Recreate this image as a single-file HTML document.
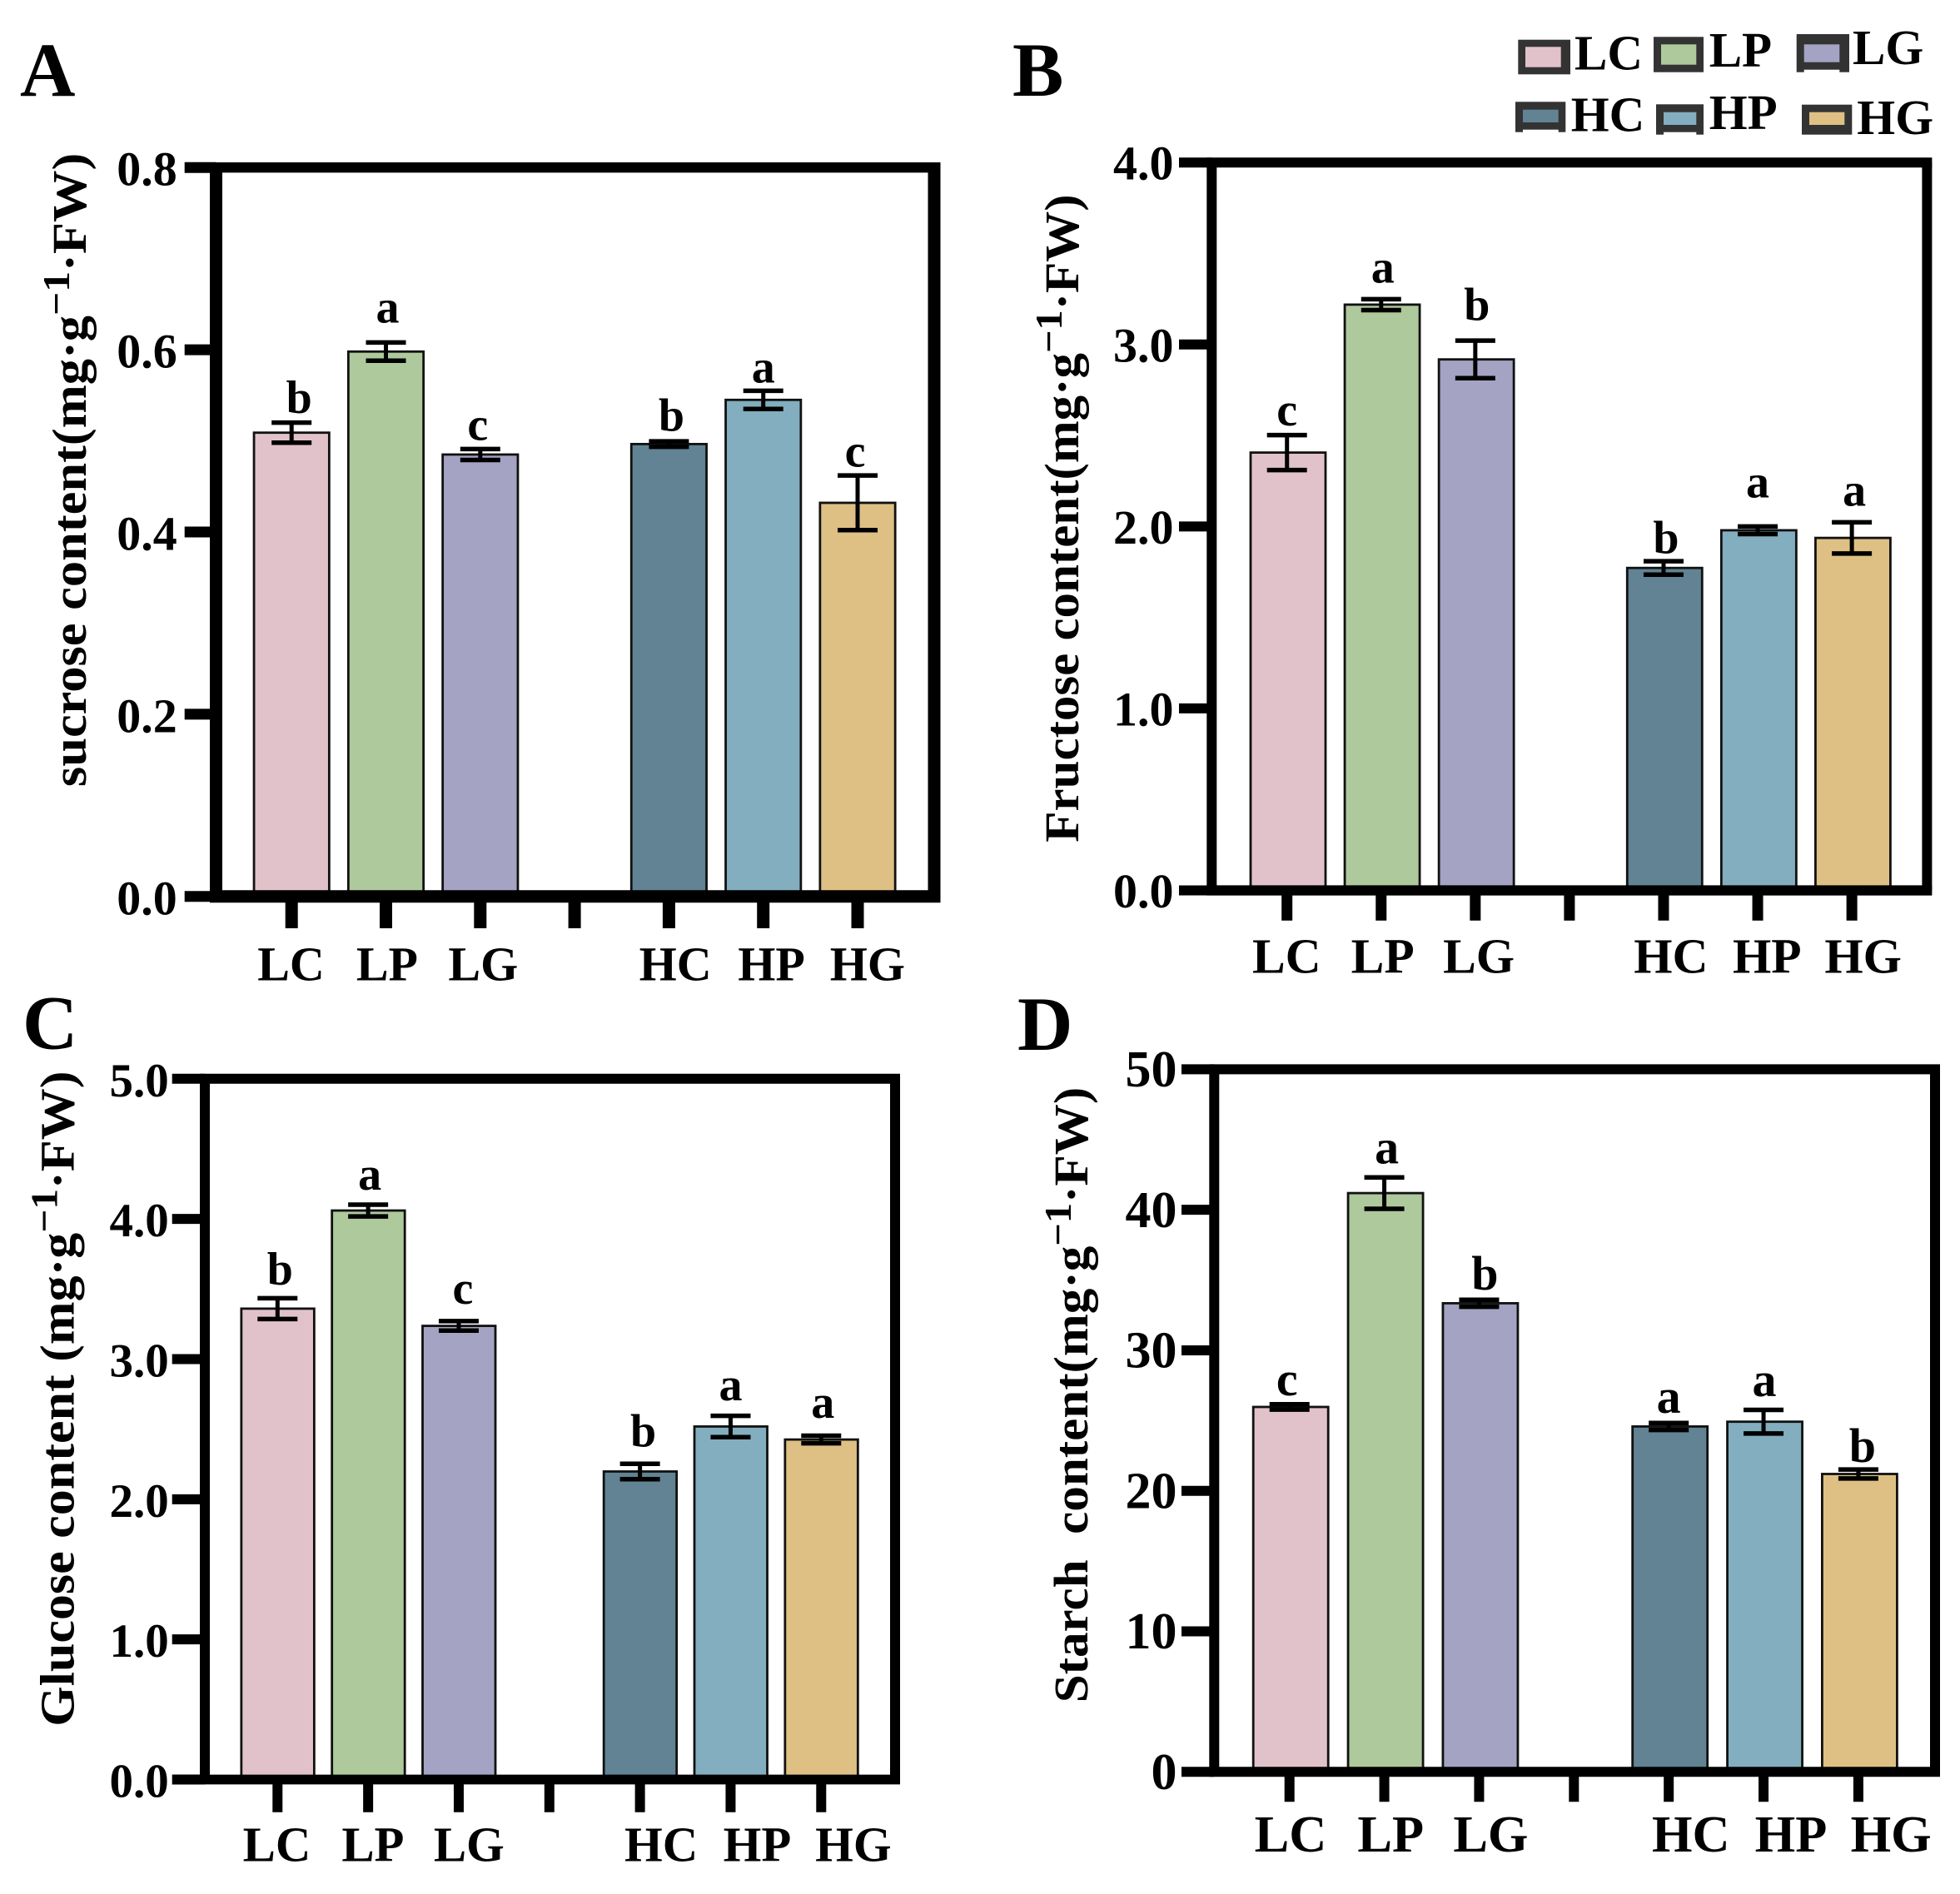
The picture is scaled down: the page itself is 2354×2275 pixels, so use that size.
<!DOCTYPE html>
<html lang="en">
<head>
<meta charset="utf-8">
<title>Sugar and starch content by treatment</title>
<style>
html,body{margin:0;padding:0;background:#fff;}
svg{display:block;}
text{font-family:"Liberation Serif",serif;font-weight:bold;fill:#000;}
</style>
</head>
<body>
<svg id="figure" xmlns="http://www.w3.org/2000/svg" width="2354" height="2275" viewBox="0 0 2354 2275"></svg>
<script>
// ---- Data ----
const categories = ['LC', 'LP', 'LG', 'HC', 'HP', 'HG'];
const categorySlots = [0, 1, 2, 4, 5, 6];

const valuesA = [0.509, 0.598, 0.485, 0.4965, 0.545, 0.432];
const errorsA = [0.011, 0.010, 0.006, 0.003, 0.010, 0.030];
const lettersA = ['b', 'a', 'c', 'b', 'a', 'c'];
const tickLabelsA = ['0.0', '0.2', '0.4', '0.6', '0.8'];

const valuesB = [2.406, 3.219, 2.918, 1.772, 1.979, 1.937];
const errorsB = [0.096, 0.030, 0.103, 0.037, 0.021, 0.086];
const lettersB = ['c', 'a', 'b', 'b', 'a', 'a'];
const tickLabelsB = ['0.0', '1.0', '2.0', '3.0', '4.0'];

const valuesC = [3.36, 4.06, 3.237, 2.198, 2.519, 2.426];
const errorsC = [0.074, 0.042, 0.034, 0.055, 0.076, 0.027];
const lettersC = ['b', 'a', 'c', 'b', 'a', 'a'];
const tickLabelsC = ['0.0', '1.0', '2.0', '3.0', '4.0', '5.0'];

const valuesD = [25.97, 41.19, 33.35, 24.58, 24.92, 21.2];
const errorsD = [0.19, 1.12, 0.25, 0.25, 0.84, 0.32];
const lettersD = ['c', 'a', 'b', 'a', 'a', 'b'];
const tickLabelsD = ['0', '10', '20', '30', '40', '50'];

const barColors = ['#e2c2ca', '#aec99c', '#a4a3c3', '#618393', '#82aebf', '#dec084'];

// ---- Layout (pixels; independent of the data) ----
const panels = [
  { id: 'a', letter: 'A', letterX: 24, letterY: 114.8,
    values: valuesA, errors: errorsA, letters: lettersA, ticks: tickLabelsA,
    left: 259.5, right: 1122, top: 201.2, bottom: 1076.8,
    frameV: 15, frameTop: 12.3, frameBottom: 15,
    tickLeft: 221.7, tickBottom: 1115, xTickWidth: 15, yTickWidth: 13,
    slot0: 350.2, slotStep: 113.3, barWidth: 90.3, barDx: 0,
    tickLabelEnd: 212.7, tickLabelDy: 21.5, tickFont: 58,
    labelStart: 349.5, labelStep: 115.4, labelBase: 1177.7, labelFont: 58,
    sigFont: 56,
    letterGap: [9.2, 21.4, 8.2, 10.2, 7.6, 8.2], letterDx: [9, 2, -3, 3, 0, -3],
    titleA: 'sucrose content(mg·g', titleB: '·FW)', titleX: 103, titleBottom: 945.1, titleLen: 761.4 },
  { id: 'b', letter: 'B', letterX: 1216, letterY: 114.8,
    values: valuesB, errors: errorsB, letters: lettersB, ticks: tickLabelsB,
    left: 1455.3, right: 2314.4, top: 195.2, bottom: 1069.5,
    frameV: 12, frameTop: 12, frameBottom: 12.3,
    tickLeft: 1416, tickBottom: 1105.7, xTickWidth: 13, yTickWidth: 12,
    slot0: 1545.7, slotStep: 113.07, barWidth: 90, barDx: 1.3,
    tickLabelEnd: 1409.5, tickLabelDy: 20.5, tickFont: 58,
    labelStart: 1545.3, labelStep: 115.4, labelBase: 1168.3, labelFont: 59.5,
    sigFont: 56,
    letterGap: [9.2, 17.3, 22.4, 7.1, 32.6, 17.3], letterDx: [0, 2, 2, 3, 0, 3],
    titleA: 'Fructose content(mg·g', titleB: '·FW)', titleX: 1295, titleBottom: 1011.7, titleLen: 778.3 },
  { id: 'c', letter: 'C', letterX: 27, letterY: 1259.6,
    values: valuesC, errors: errorsC, letters: lettersC, ticks: tickLabelsC,
    left: 246, right: 1075, top: 1295.8, bottom: 2137.5,
    frameV: 12, frameTop: 12, frameBottom: 11.7,
    tickLeft: 206.7, tickBottom: 2176.7, xTickWidth: 12, yTickWidth: 12,
    slot0: 333.3, slotStep: 108.83, barWidth: 87.5, barDx: 0.3,
    tickLabelEnd: 202.7, tickLabelDy: 21, tickFont: 57,
    labelStart: 332.5, labelStep: 115.4, labelBase: 2235.7, labelFont: 58.8,
    sigFont: 56,
    letterGap: [14, 15.6, 18.5, 18, 16, 19], letterDx: [3, 2, 5, 4, 0, 2],
    titleA: 'Glucose content (mg·g', titleB: '·FW)', titleX: 88.6, titleBottom: 2073.7, titleLen: 787.1 },
  { id: 'd', letter: 'D', letterX: 1222, letterY: 1261,
    values: valuesD, errors: errorsD, letters: lettersD, ticks: tickLabelsD,
    left: 1458.3, right: 2324, top: 1284.4, bottom: 2128.3,
    frameV: 12, frameTop: 12, frameBottom: 12,
    tickLeft: 1419, tickBottom: 2164.3, xTickWidth: 12, yTickWidth: 12,
    slot0: 1548.7, slotStep: 113.87, barWidth: 90, barDx: 1.5,
    tickLabelEnd: 1413.5, tickLabelDy: 20.7, tickFont: 62,
    labelStart: 1550, labelStep: 120.2, labelBase: 2224, labelFont: 62.4,
    sigFont: 58,
    letterGap: [8.5, 14, 9.5, 9.5, 14, 6.6], letterDx: [-3, 3, 7, 0, 1, 5],
    titleA: 'Starch  content(mg·g', titleB: '·FW)', titleX: 1306, titleBottom: 2045.3, titleLen: 739.5 }
];

const legendItems = [
  { name: 'LC', fill: 0, x: 1823.3, y: 47.7, w: 62.7, h: 41.6, ix: 1832, iy: 56.3, iw: 42.7, ih: 24.4, notch: false, tx: 1891, ty: 83.3 },
  { name: 'LP', fill: 1, x: 1986, y: 44.3, w: 60, h: 42.4, ix: 1995, iy: 53.3, iw: 42.3, ih: 24.4, notch: false, tx: 2052.7, ty: 80 },
  { name: 'LG', fill: 2, x: 2157.7, y: 41, w: 63.3, h: 45.7, ix: 2166.7, iy: 53.3, iw: 42.6, ih: 21.4, notch: true, tx: 2225, ty: 77 },
  { name: 'HC', fill: 3, x: 1820, y: 122.3, w: 60.3, h: 36.4, ix: 1829, iy: 131.7, iw: 42.7, ih: 15.3, notch: true, tx: 1886.7, ty: 157.7 },
  { name: 'HP', fill: 4, x: 1989, y: 125.3, w: 57, h: 36.4, ix: 1998, iy: 134.7, iw: 39.3, ih: 15.3, notch: true, tx: 2052.7, ty: 155 },
  { name: 'HG', fill: 5, x: 2164, y: 125.7, w: 60.3, h: 36, ix: 2173, iy: 134.7, iw: 42.3, ih: 15.3, notch: false, tx: 2230.3, ty: 161 }
];

// ---- Drawing ----
const NS = 'http://www.w3.org/2000/svg';
const root = document.getElementById('figure');

function make(tag, parent, props) {
  const el = document.createElementNS(NS, tag);
  for (const k in props) el.setAttribute(k, props[k]);
  parent.appendChild(el);
  return el;
}

function drawPanel(p) {
  const g = make('g', root, {});
  
  

  const maxTick = parseFloat(p.ticks[p.ticks.length - 1]);
  const yScale = v => p.bottom - (v / maxTick) * (p.bottom - p.top);
  const xScale = s => p.slot0 + p.slotStep * s;

  const panelLetter = make('text', g, { x: p.letterX, y: p.letterY, 'font-size': 92 });
  panelLetter.textContent = p.letter;
  
  

  // bars
  categories.forEach((cat, i) => {
    const cx = xScale(categorySlots[i]) + p.barDx;
    const yTop = yScale(p.values[i]);
    const bar = make('rect', g, {
      x: cx - p.barWidth / 2, y: yTop, width: p.barWidth, height: p.bottom - yTop,
      fill: barColors[i], stroke: '#111', 'stroke-width': 2.8
    });
    
    
  });

  // error bars and significance letters
  categories.forEach((cat, i) => {
    const cx = xScale(categorySlots[i]);
    const hi = yScale(p.values[i] + p.errors[i]);
    const lo = yScale(p.values[i] - p.errors[i]);
    const eg = make('g', g, { stroke: '#000', fill: 'none' });
    
    
    make('line', eg, { x1: cx, x2: cx, y1: hi, y2: lo, 'stroke-width': 5 });
    make('line', eg, { x1: cx - 24, x2: cx + 24, y1: hi, y2: hi, 'stroke-width': 5.5 });
    make('line', eg, { x1: cx - 24, x2: cx + 24, y1: lo, y2: lo, 'stroke-width': 5.5 });

    const sig = make('text', g, {
      x: cx + p.letterDx[i], y: hi - 2.5 - p.letterGap[i],
      'font-size': p.sigFont, 'text-anchor': 'middle'
    });
    sig.textContent = p.letters[i];
    
    
  });

  // frame: four sides, because the stroke widths differ slightly
  const frame = make('g', g, { stroke: '#000', fill: 'none' });
  
  
  const halfV = p.frameV / 2;
  make('line', frame, { x1: p.left - halfV, x2: p.right + halfV, y1: p.top, y2: p.top, 'stroke-width': p.frameTop });
  make('line', frame, { x1: p.left - halfV, x2: p.right + halfV, y1: p.bottom, y2: p.bottom, 'stroke-width': p.frameBottom });
  make('line', frame, { x1: p.left, x2: p.left, y1: p.top, y2: p.bottom, 'stroke-width': p.frameV });
  make('line', frame, { x1: p.right, x2: p.right, y1: p.top, y2: p.bottom, 'stroke-width': p.frameV });

  // y ticks
  p.ticks.forEach(label => {
    const y = yScale(parseFloat(label));
    const tick = make('line', g, {
      x1: p.tickLeft, x2: p.left, y1: y, y2: y, stroke: '#000', 'stroke-width': p.yTickWidth
    });
    
    
    const txt = make('text', g, {
      x: p.tickLabelEnd, y: y + p.tickLabelDy, 'font-size': p.tickFont, 'text-anchor': 'end'
    });
    txt.textContent = label;
    
    
  });

  // x ticks (seven slots, the middle one is the empty separator)
  for (let s = 0; s <= 6; s++) {
    const tick = make('line', g, {
      x1: xScale(s), x2: xScale(s), y1: p.bottom, y2: p.tickBottom,
      stroke: '#000', 'stroke-width': p.xTickWidth
    });
    
    
  }

  // x labels
  categories.forEach((cat, i) => {
    const txt = make('text', g, {
      x: p.labelStart + p.labelStep * categorySlots[i], y: p.labelBase,
      'font-size': p.labelFont, 'text-anchor': 'middle'
    });
    txt.textContent = cat;
    
    
  });

  // y title
  const title = make('text', g, {
    transform: 'translate(' + p.titleX + ',' + p.titleBottom + ') rotate(-90)',
    'font-size': 58, textLength: p.titleLen, lengthAdjust: 'spacingAndGlyphs',
    'xml:space': 'preserve'
  });
  title.style.whiteSpace = 'pre';
  
  
  title.appendChild(document.createTextNode(p.titleA));
  const sup = make('tspan', title, { dy: -20, 'font-size': 46 });
  sup.textContent = '\u22121';
  const rest = make('tspan', title, { dy: 20 });
  rest.textContent = p.titleB;
}

panels.forEach(drawPanel);

// legend
const legend = make('g', root, {});


legendItems.forEach(item => {
  const g = make('g', legend, {});
  
  
  make('rect', g, { x: item.x, y: item.y, width: item.w, height: item.h, fill: '#333' });
  make('rect', g, { x: item.ix, y: item.iy, width: item.iw, height: item.ih, fill: barColors[item.fill] });
  if (item.notch) {
    make('rect', g, { x: item.ix, y: item.y + item.h - 3, width: item.iw, height: 3.5, fill: '#fff' });
  }
  const t = make('text', g, { x: item.tx, y: item.ty, 'font-size': 59 });
  t.textContent = item.name;
});
</script>
</body>
</html>
